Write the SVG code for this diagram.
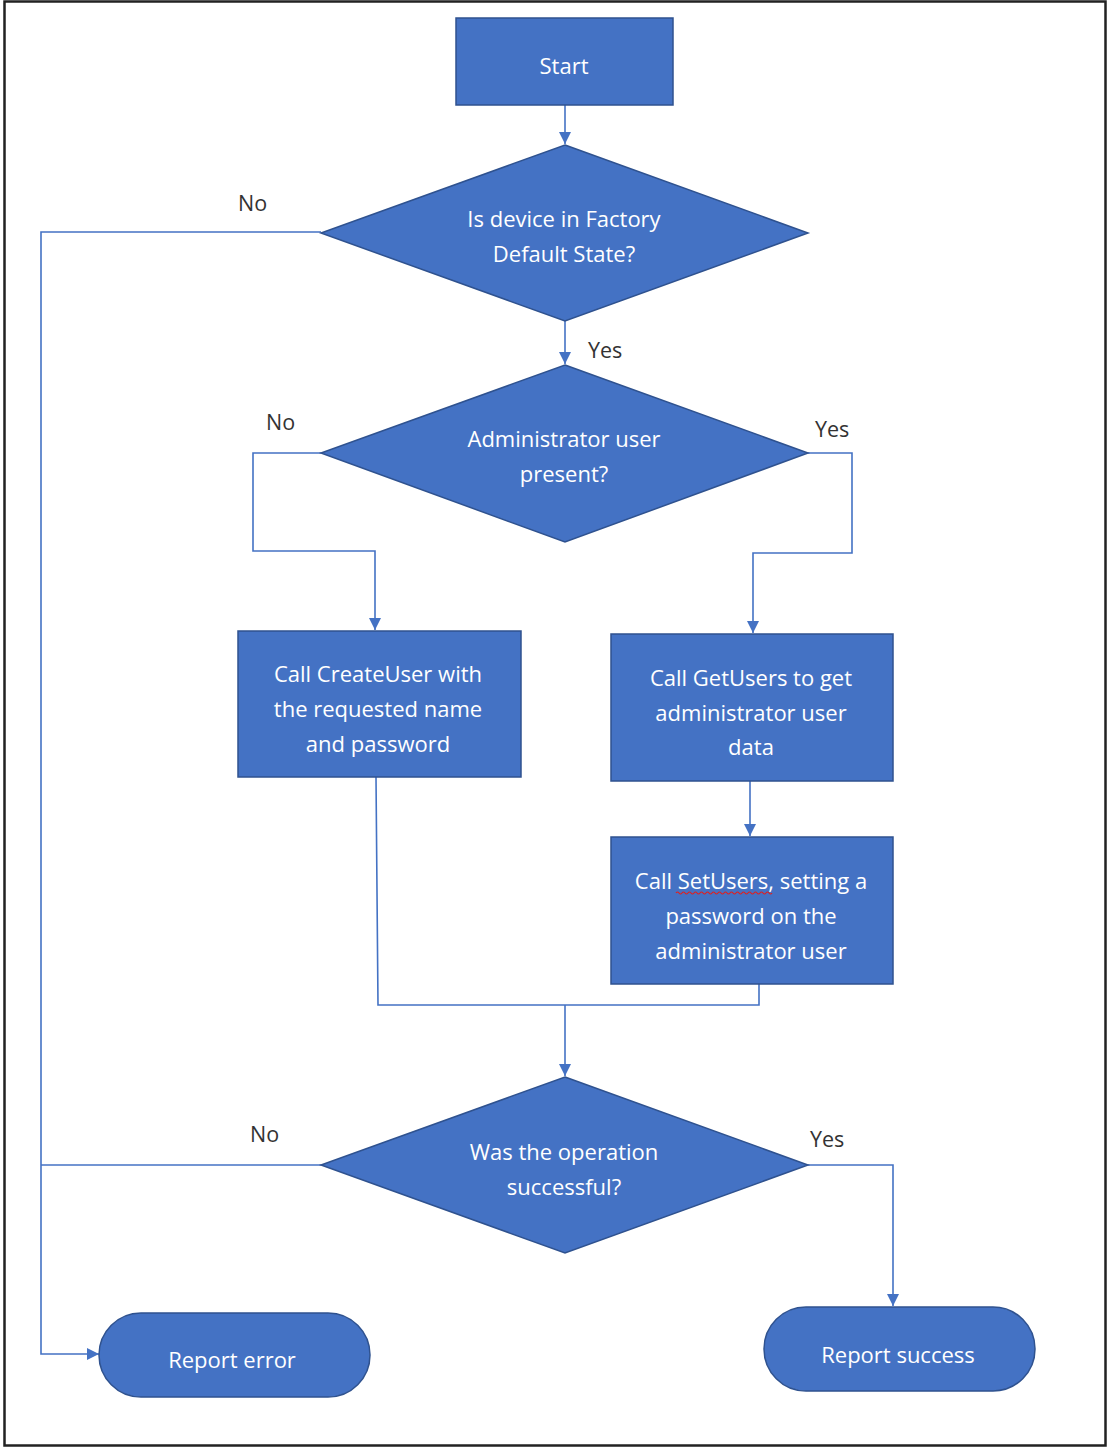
<svg xmlns="http://www.w3.org/2000/svg" width="1110" height="1449" viewBox="0 0 1110 1449">
<defs>
<style>
.node{fill:#4472C4;stroke:#2F528F;stroke-width:1.5}
.nt{font-family:"Open Sans","Noto Sans",sans-serif;font-size:22px;fill:#FFFFFF;text-anchor:middle;dominant-baseline:central}
.lbl{font-family:"Open Sans","Noto Sans",sans-serif;font-size:21.5px;fill:#333333;dominant-baseline:central}
.c{fill:none;stroke:#4472C4;stroke-width:1.6}
</style>
<marker id="ah" viewBox="0 0 10 10" refX="10" refY="5" markerWidth="12" markerHeight="12" markerUnits="userSpaceOnUse" orient="auto">
<path d="M0,0 L10,5 L0,10 Z" fill="#4472C4"/>
</marker>
</defs>
<rect x="0" y="0" width="1110" height="1449" fill="#FFFFFF"/>
<rect x="4.5" y="1.5" width="1101" height="1444" fill="none" stroke="#222222" stroke-width="2.5"/>
<g id="connectors">
<path class="c" d="M565,105 V144" marker-end="url(#ah)"/>
<path class="c" d="M565,321 V364" marker-end="url(#ah)"/>
<path class="c" d="M321,232 H41 V1354 H99" marker-end="url(#ah)"/>
<path class="c" d="M321,453 H253 V551 H375 V630" marker-end="url(#ah)"/>
<path class="c" d="M808,453 H852 V553 H753 V633" marker-end="url(#ah)"/>
<path class="c" d="M750,781 V836" marker-end="url(#ah)"/>
<path class="c" d="M376,777 L378,1005 H759 V984"/>
<path class="c" d="M565,1005 V1076" marker-end="url(#ah)"/>
<path class="c" d="M321,1165 H41"/>
<path class="c" d="M808,1165 H893 V1306" marker-end="url(#ah)"/>
</g>
<g id="labels">
<text class="lbl" x="238" y="202">No</text>
<text class="lbl" x="588" y="349">Yes</text>
<text class="lbl" x="266" y="421">No</text>
<text class="lbl" x="815" y="428">Yes</text>
<text class="lbl" x="250" y="1133">No</text>
<text class="lbl" x="810" y="1138">Yes</text>
</g>
<g id="start">
<rect class="node" x="456" y="18" width="217" height="87"/>
<text class="nt" x="564" y="65">Start</text>
</g>
<g id="factory-default">
<polygon class="node" points="565,145 808,233 565,321 321,233"/>
<text class="nt" x="564" y="218">Is device in Factory</text>
<text class="nt" x="564" y="253">Default State?</text>
</g>
<g id="admin-present">
<polygon class="node" points="565,365 808,453 565,542 321,453"/>
<text class="nt" x="564" y="438">Administrator user</text>
<text class="nt" x="564" y="473">present?</text>
</g>
<g id="create-user">
<rect class="node" x="238" y="631" width="283" height="146"/>
<text class="nt" x="378" y="673">Call CreateUser with</text>
<text class="nt" x="378" y="708">the requested name</text>
<text class="nt" x="378" y="743">and password</text>
</g>
<g id="get-users">
<rect class="node" x="611" y="634" width="282" height="147"/>
<text class="nt" x="751" y="677">Call GetUsers to get</text>
<text class="nt" x="751" y="712">administrator user</text>
<text class="nt" x="751" y="746">data</text>
</g>
<g id="set-users">
<rect class="node" x="611" y="837" width="282" height="147"/>
<text class="nt" x="751" y="880">Call SetUsers, setting a</text>
<text class="nt" x="751" y="915">password on the</text>
<text class="nt" x="751" y="950">administrator user</text>
<path d="M676,893 q1.5,-2 3,0 t3,0 t3,0 t3,0 t3,0 t3,0 t3,0 t3,0 t3,0 t3,0 t3,0 t3,0 t3,0 t3,0 t3,0 t3,0 t3,0 t3,0 t3,0 t3,0 t3,0 t3,0 t3,0 t3,0 t3,0 t3,0 t3,0 t3,0 t3,0 t3,0 t3,0 t3,0" fill="none" stroke="#E02020" stroke-width="1.2"/>
</g>
<g id="operation-successful">
<polygon class="node" points="565,1077 808,1165 565,1253 321,1165"/>
<text class="nt" x="564" y="1151">Was the operation</text>
<text class="nt" x="564" y="1186">successful?</text>
</g>
<g id="report-error">
<rect class="node" x="99" y="1313" width="271" height="84" rx="42" ry="42"/>
<text class="nt" x="232" y="1359">Report error</text>
</g>
<g id="report-success">
<rect class="node" x="764" y="1307" width="271" height="84" rx="42" ry="42"/>
<text class="nt" x="898" y="1354">Report success</text>
</g>
</svg>
